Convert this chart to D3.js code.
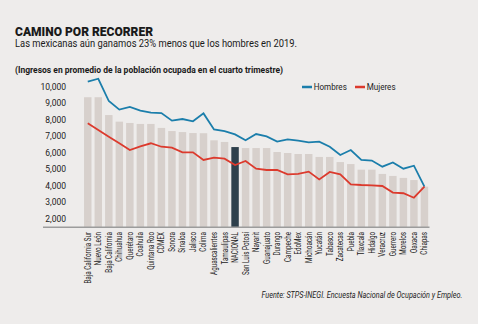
<!DOCTYPE html>
<html>
<head>
<meta charset="utf-8">
<script src="https://cdn.jsdelivr.net/npm/d3@7"></script>
<style>
  html, body { margin: 0; padding: 0; background: #eeeceb; }
  svg { display: block; font-family: Roboto, "Open Sans", sans-serif; }
</style>
</head>
<body>
<svg class="svgIngresos" width="478" height="324"></svg>
<script>
var estados = ["Baja California Sur", "Nuevo León", "Baja California", "Chihuahua", "Querétaro",
  "Coahuila", "Quintana Roo", "CDMEX", "Sonora", "Sinaloa", "Jalisco", "Colima",
  "Aguascalientes", "Tamaulipas", "NACIONAL", "San Luis Potosí", "Nayarit", "Guanajuato",
  "Durango", "Campeche", "EdoMex", "Michoacán", "Yucatán", "Tabasco", "Zacatecas", "Puebla",
  "Tlaxcala", "Hidalgo", "Veracruz", "Guerrero", "Morelos", "Oaxaca", "Chiapas"];

// promedio general (barras)
var promedio = [9380, 9380, 8300, 7900, 7820, 7760, 7760, 7520, 7330, 7270, 7210, 7200,
  6770, 6670, 6360, 6300, 6300, 6300, 6060, 6000, 5940, 5940, 5760, 5760, 5450, 5330,
  4990, 4990, 4730, 4610, 4490, 4360, 3960];

var hombres = [10320, 10500, 9150, 8630, 8790, 8570, 8450, 8420, 7960, 8060, 7920, 8400,
  7430, 7330, 7130, 6770, 7150, 7010, 6690, 6830, 6750, 6650, 6690, 6380, 5880, 6180,
  5580, 5540, 5170, 5430, 5050, 5230, 3960];

var mujeres = [7800, 7390, 6990, 6590, 6180, 6400, 6590, 6380, 6320, 6040, 6040, 5580,
  5720, 5660, 5270, 5520, 5050, 4970, 4970, 4710, 4730, 4870, 4400, 4850, 4710, 4100,
  4060, 4040, 4000, 3600, 3560, 3290, 3960];

var yTicks = [2000, 3000, 4000, 5000, 6000, 7000, 8000, 9000, 10000];

var colorHombres = "#1b7eab";
var colorMujeres = "#dc3a2d";
var colorBarra = "#d7d0cc";
var colorNacional = "#2e404c";

var svg = d3.select("svg.svgIngresos");

var x = d3.scaleBand()
    .domain(estados)
    .range([82.5, 429.7])
    .paddingInner(0.29)
    .paddingOuter(0.145);

var y = d3.scaleLinear()
    .domain([1500, 10000])
    .range([227.25, 87]);

// Titulos
svg.append("text")
    .attr("x", 15).attr("y", 35.5)
    .attr("textLength", 138).attr("lengthAdjust", "spacingAndGlyphs")
    .style("font-size", "12.5px").style("font-weight", 900)
    .attr("fill", "#1a1a1a")
    .text("CAMINO POR RECORRER");

svg.append("text")
    .attr("x", 15).attr("y", 47)
    .attr("textLength", 282).attr("lengthAdjust", "spacingAndGlyphs")
    .style("font-size", "10.5px")
    .attr("fill", "#1a1a1a")
    .text("Las mexicanas aún ganamos 23% menos que los hombres en 2019.");

svg.append("text")
    .attr("x", 15).attr("y", 72.5)
    .attr("textLength", 268).attr("lengthAdjust", "spacingAndGlyphs")
    .style("font-size", "9px").style("font-weight", 700)
    .attr("fill", "#1a1a1a")
    .text("(Ingresos en promedio de la población ocupada en el cuarto trimestre)");

// Eje Y (solo etiquetas)
svg.append("g")
    .attr("class", "axis-y")
    .selectAll("text")
    .data(yTicks)
    .enter().append("text")
    .attr("x", 66)
    .attr("y", function(d) { return y(d); })
    .attr("dy", "0.35em")
    .attr("text-anchor", "end")
    .style("font-size", "8.5px")
    .attr("fill", "#222")
    .text(function(d) { return d3.format(",")(d); });

// Barras
svg.append("g")
    .attr("class", "bar-group")
    .selectAll("rect")
    .data(estados)
    .enter().append("rect")
    .attr("x", function(d) { return x(d); })
    .attr("y", function(d, i) { return y(promedio[i]); })
    .attr("width", x.bandwidth())
    .attr("height", function(d, i) { return y(1500) - y(promedio[i]); })
    .attr("fill", function(d) { return d === "NACIONAL" ? colorNacional : colorBarra; });

// Linea base
svg.append("line")
    .attr("x1", 43).attr("x2", 429.5)
    .attr("y1", y(1500)).attr("y2", y(1500))
    .attr("stroke", "#9c9c9c")
    .attr("stroke-width", 1.5);

// Lineas de hombres y mujeres
var line = d3.line()
    .x(function(d, i) { return x(estados[i]) + x.bandwidth() / 2; })
    .y(function(d) { return y(d); });

svg.append("path")
    .datum(hombres)
    .attr("d", line)
    .attr("fill", "none")
    .attr("stroke", colorHombres)
    .attr("stroke-width", 1.8);

svg.append("path")
    .datum(mujeres)
    .attr("d", line)
    .attr("fill", "none")
    .attr("stroke", colorMujeres)
    .attr("stroke-width", 1.8);

// Etiquetas de estados (verticales)
svg.append("g")
    .attr("class", "axis-x")
    .selectAll("text")
    .data(estados)
    .enter().append("text")
    .attr("transform", function(d) {
        return "translate(" + (x(d) + x.bandwidth() / 2) + "," + 232 + ") rotate(-90) scale(0.74,1)";
    })
    .attr("dy", "0.35em")
    .attr("text-anchor", "end")
    .style("font-size", "8.5px")
    .attr("fill", "#222")
    .text(function(d) { return d; });

// Leyenda
var leyenda = [{label: "Hombres", color: colorHombres, x: 302},
               {label: "Mujeres", color: colorMujeres, x: 355}];

var item = svg.append("g")
    .attr("class", "legend")
    .selectAll("g")
    .data(leyenda)
    .enter().append("g")
    .attr("transform", function(d) { return "translate(" + d.x + ",87)"; });

item.append("line")
    .attr("x1", 0).attr("x2", 10)
    .attr("stroke", function(d) { return d.color; })
    .attr("stroke-width", 2.5);

item.append("text")
    .attr("x", 13)
    .attr("dy", "0.35em")
    .attr("transform", "scale(0.9,1)")
    .style("font-size", "9px")
    .attr("fill", "#222")
    .text(function(d) { return d.label; });

// Fuente (condensada con escala horizontal)
svg.append("text")
    .attr("transform", "translate(261.5,298) scale(0.82,1)")
    .attr("textLength", 245).attr("lengthAdjust", "spacingAndGlyphs")
    .style("font-size", "8.5px").style("font-style", "italic")
    .attr("fill", "#222")
    .text("Fuente: STPS-INEGI. Encuesta Nacional de Ocupación y Empleo.");
</script>
</body>
</html>
